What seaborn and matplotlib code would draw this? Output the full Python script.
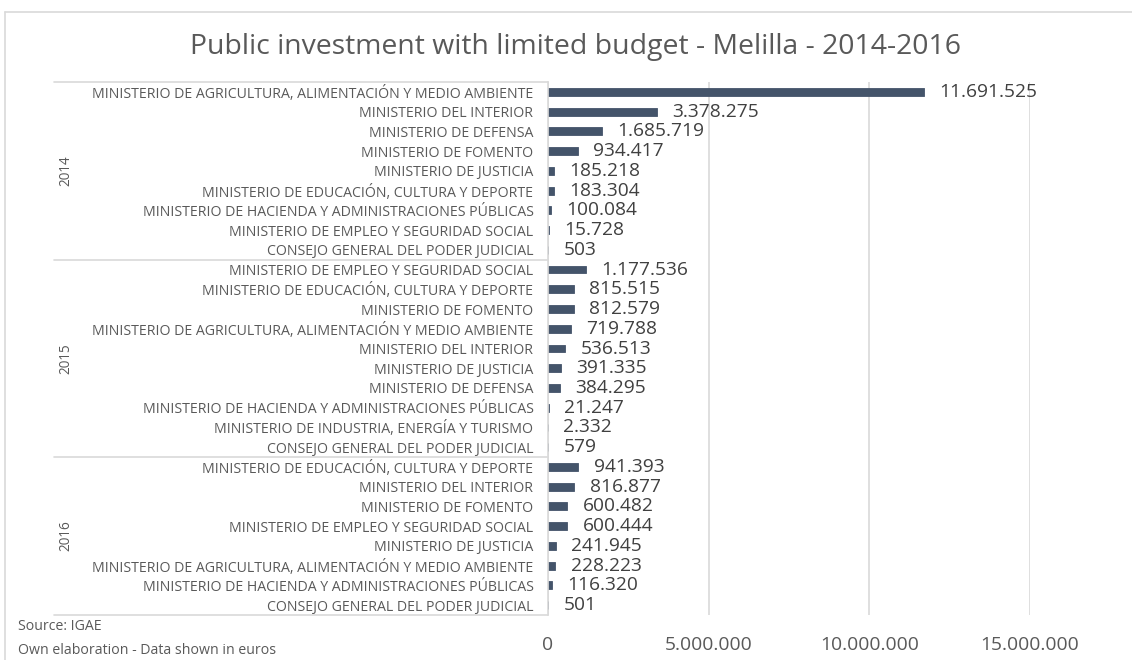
import matplotlib
matplotlib.use("Agg")
import matplotlib.pyplot as plt
import seaborn as sns
import pandas as pd
from matplotlib.lines import Line2D
from matplotlib.textpath import TextPath
from matplotlib.font_manager import FontProperties

# ---------------- data ----------------
years = ["2014", "2015", "2016"]

names_2014 = [
    "MINISTERIO DE AGRICULTURA, ALIMENTACIÓN Y MEDIO AMBIENTE",
    "MINISTERIO DEL INTERIOR",
    "MINISTERIO DE DEFENSA",
    "MINISTERIO DE FOMENTO",
    "MINISTERIO DE JUSTICIA",
    "MINISTERIO DE EDUCACIÓN, CULTURA Y DEPORTE",
    "MINISTERIO DE HACIENDA Y ADMINISTRACIONES PÚBLICAS",
    "MINISTERIO DE EMPLEO Y SEGURIDAD SOCIAL",
    "CONSEJO GENERAL DEL PODER JUDICIAL",
]
values_2014 = [11691525, 3378275, 1685719, 934417, 185218, 183304, 100084, 15728, 503]

names_2015 = [
    "MINISTERIO DE EMPLEO Y SEGURIDAD SOCIAL",
    "MINISTERIO DE EDUCACIÓN, CULTURA Y DEPORTE",
    "MINISTERIO DE FOMENTO",
    "MINISTERIO DE AGRICULTURA, ALIMENTACIÓN Y MEDIO AMBIENTE",
    "MINISTERIO DEL INTERIOR",
    "MINISTERIO DE JUSTICIA",
    "MINISTERIO DE DEFENSA",
    "MINISTERIO DE HACIENDA Y ADMINISTRACIONES PÚBLICAS",
    "MINISTERIO DE INDUSTRIA, ENERGÍA Y TURISMO",
    "CONSEJO GENERAL DEL PODER JUDICIAL",
]
values_2015 = [1177536, 815515, 812579, 719788, 536513, 391335, 384295, 21247, 2332, 579]

names_2016 = [
    "MINISTERIO DE EDUCACIÓN, CULTURA Y DEPORTE",
    "MINISTERIO DEL INTERIOR",
    "MINISTERIO DE FOMENTO",
    "MINISTERIO DE EMPLEO Y SEGURIDAD SOCIAL",
    "MINISTERIO DE JUSTICIA",
    "MINISTERIO DE AGRICULTURA, ALIMENTACIÓN Y MEDIO AMBIENTE",
    "MINISTERIO DE HACIENDA Y ADMINISTRACIONES PÚBLICAS",
    "CONSEJO GENERAL DEL PODER JUDICIAL",
]
values_2016 = [941393, 816877, 600482, 600444, 241945, 228223, 116320, 501]

x_ticks = [0, 5000000, 10000000, 15000000]
x_tick_labels = ["0", "5.000.000", "10.000.000", "15.000.000"]

title = "Public investment with limited budget - Melilla - 2014-2016"
footer1 = "Source: IGAE"
footer2 = "Own elaboration - Data shown in euros"

# ---------------- build frame ----------------
rows = []
for yr, names, vals in [("2014", names_2014, values_2014),
                        ("2015", names_2015, values_2015),
                        ("2016", names_2016, values_2016)]:
    for n, v in zip(names, vals):
        rows.append({"year": yr, "name": n, "value": v, "row": f"{yr}|{n}"})
df = pd.DataFrame(rows)

# ---------------- style ----------------
W, H, DPI = 1132, 660, 100
FAM = "Open Sans"
TXT = "#595959"
BAR = "#44546A"
GRID = "#D9D9D9"

sns.set_theme(style="white")
plt.rcParams["font.family"] = [FAM, "DejaVu Sans"]


def fit(text, target_px, family=FAM):
    fp = FontProperties(family=family, size=10)
    w = TextPath((0, 0), text, prop=fp).get_extents().width
    return 10 * target_px / (w * DPI / 72.0)


fs_cat = fit(names_2014[0], 440)
fs_val = fit("11.691.525", 95)
fs_tick = fit("5.000.000", 85)
fs_title = fit(title, 766)
fs_foot = fit(footer2, 255)
fs_year = fit("2014", 30)

fig = plt.figure(figsize=(W / DPI, H / DPI), dpi=DPI)
ax = fig.add_axes([548 / W, 1 - 615 / H, (1030 - 548) / W, (615 - 82) / H])

sns.barplot(data=df, x="value", y="row", order=list(df["row"]), orient="h",
            color=BAR, saturation=1, width=0.4, edgecolor=BAR, linewidth=0.6,
            ax=ax)

n = len(df)
ax.set_xlim(0, 15000000)
ax.set_ylim(n - 0.5, -0.5)
ax.set_xticks(x_ticks)
ax.set_xticklabels(x_tick_labels, fontsize=fs_tick, color=TXT)
ax.set_yticks(range(n))
ax.set_yticklabels(list(df["name"]), fontsize=fs_cat, color=TXT)
ax.tick_params(axis="x", length=0, pad=15)
ax.tick_params(axis="y", length=0, pad=10.5)
ax.set_xlabel("")
ax.set_ylabel("")

ax.grid(axis="x", color=GRID, lw=1.2)
ax.set_axisbelow(True)
for s in ["top", "right", "bottom"]:
    ax.spines[s].set_visible(False)
ax.spines["left"].set_color(GRID)
ax.spines["left"].set_linewidth(1.2)

# value labels
for p, v in zip(ax.patches, df["value"]):
    lbl = f"{v:,}".replace(",", ".")
    ax.annotate(lbl, (p.get_width(), p.get_y() + p.get_height() / 2),
                xytext=(11, 0), textcoords="offset points",
                va="center", ha="left", fontsize=fs_val, color="#404040")

# group separators and year labels
trans = ax.get_yaxis_transform()
span = 1030 - 548
x_left = (54 - 548) / span
sizes = [len(values_2014), len(values_2015), len(values_2016)]
start = 0
bounds = [-0.5]
for yr, sz in zip(years, sizes):
    end = start + sz
    bounds.append(end - 0.5)
    center = (start + end - 1) / 2
    ax.text((66 - 548) / span, center, yr, transform=trans,
            rotation=90, ha="center", va="center", fontsize=fs_year, color=TXT)
    start = end
for b in bounds:
    ax.add_line(Line2D([x_left, 0], [b, b], transform=trans, color=GRID,
                       lw=1.2, clip_on=False))

# title and footers
fig.text(576 / W, 1 - 47 / H, title, ha="center", va="center",
         fontsize=fs_title, color=TXT)
fig.text(18 / W, 1 - 627 / H, footer1, ha="left", va="center",
         fontsize=fs_foot, color=TXT)
fig.text(18 / W, 1 - 651 / H, footer2, ha="left", va="center",
         fontsize=fs_foot, color=TXT)

# chart border
fig.add_artist(Line2D([5 / W, 1], [1 - 12 / H, 1 - 12 / H], transform=fig.transFigure,
                      color=GRID, lw=1.2))
fig.add_artist(Line2D([5 / W, 5 / W], [0, 1 - 12 / H], transform=fig.transFigure,
                      color=GRID, lw=1.2))

fig.savefig("out.png", dpi=DPI)
